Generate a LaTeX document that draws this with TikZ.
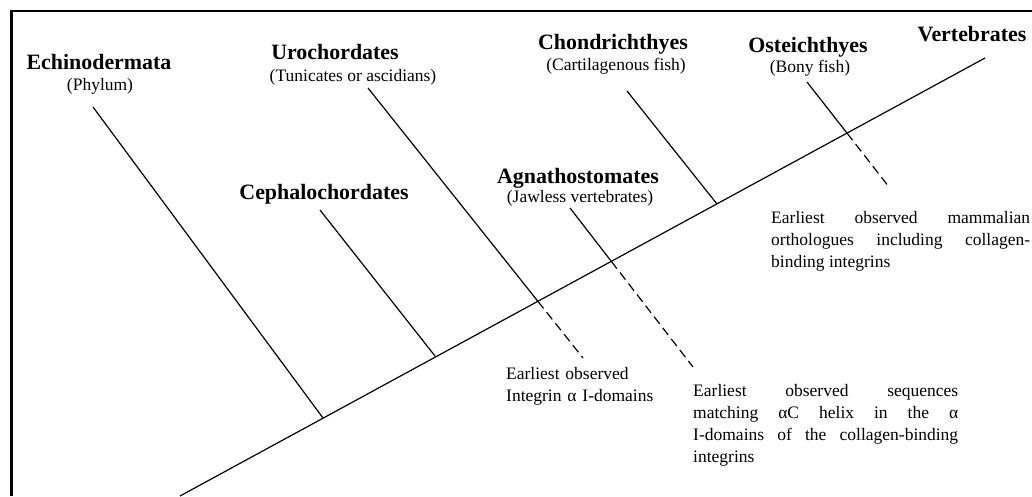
\documentclass[tikz,border=0pt]{standalone}
\usepackage{fontspec}
\setmainfont{Liberation Serif}
\hbadness=10000

\tikzset{
  taxon/.style={font=\fontsize{21.9}{26}\selectfont\bfseries, inner sep=0pt, anchor=base},
  common/.style={font=\fontsize{17.5}{22}\selectfont, inner sep=0pt, anchor=base},
  note/.style={font=\fontsize{17.5}{22}\selectfont, inner sep=0pt, anchor=base west},
  branch/.style={line width=1.2pt},
  fate/.style={line width=1.2pt, dash pattern=on 9pt off 5pt},
}

\begin{document}
\begin{tikzpicture}[x=1pt, y=-1pt]
  \useasboundingbox (0,0) rectangle (1032,496);

  % Frame, only the left and top edges show.
  \draw[line width=2.6pt] (11.5,496) -- (11.5,11) -- (1032,11);

  % The trunk of the tree.
  \coordinate (root) at (180,496);
  \coordinate (vert) at (985,58);
  \draw[branch] (root) -- (vert);

  % Ends of the side branches.
  \coordinate (echinotop) at (93,107);
  \coordinate (echinofoot) at (323,418);
  \coordinate (cephtop) at (320,210);
  \coordinate (cephfoot) at (435,356);
  \coordinate (urotop) at (368,88);
  \coordinate (uroend) at (583,358);
  \coordinate (agnatop) at (570,208);
  \coordinate (agnaend) at (693,367);
  \coordinate (chondtop) at (627,91);
  \coordinate (chondfoot) at (717,204);
  \coordinate (ostetop) at (807,82);
  \coordinate (osteend) at (889,187);

  % Where branches cross the trunk.
  \coordinate (urocross) at (intersection of urotop--uroend and root--vert);
  \coordinate (agnacross) at (intersection of agnatop--agnaend and root--vert);
  \coordinate (ostecross) at (intersection of ostetop--osteend and root--vert);

  % Solid branches.
  \draw[branch] (echinotop) -- (echinofoot);
  \draw[branch] (cephtop) -- (cephfoot);
  \draw[branch] (urotop) -- (urocross);
  \draw[branch] (agnatop) -- (agnacross);
  \draw[branch] (chondtop) -- (chondfoot);
  \draw[branch] (ostetop) -- (ostecross);

  % Dashed parts below the trunk.
  \draw[fate] (urocross) -- (uroend);
  \draw[fate] (agnacross) -- (agnaend);
  \draw[fate] (ostecross) -- (osteend);

  % Group names.
  \node[taxon] (echino) at (99,69) {Echinodermata};
  \node[common] (echinosub) at (100,90) {(Phylum)};
  \node[taxon] (uro) at (335,59) {Urochordates};
  \node[common] (urosub) at (353,81) {(Tunicates or ascidians)};
  \node[taxon] (ceph) at (324,199) {Cephalochordates};
  \node[taxon] (agna) at (578,183) {Agnathostomates};
  \node[common] (agnasub) at (580,202) {(Jawless vertebrates)};
  \node[taxon] (chond) at (613,49) {Chondrichthyes};
  \node[common] (chondsub) at (616,70) {(Cartilagenous fish)};
  \node[taxon] (oste) at (808,52) {Osteichthyes};
  \node[common] (ostesub) at (810,72) {(Bony fish)};
  \node[taxon] (vertname) at (972,41) {Vertebrates};

  % Notes at the dashed ends.
  \node[note, text width=160pt, align=left] (idomain) at (506,379)
    {Earliest observed\\ Integrin α I-domains};
  \node[note, text width=265pt, align=justify] (helix) at (693,396)
    {Earliest observed sequences\linebreak matching αC helix in the α\linebreak
     I-domains of the collagen-binding\linebreak integrins};
  \node[note, text width=259pt, align=justify] (mammal) at (771,223)
    {Earliest observed mammalian\linebreak orthologues including collagen-\linebreak
     binding integrins};

\end{tikzpicture}
\end{document}
